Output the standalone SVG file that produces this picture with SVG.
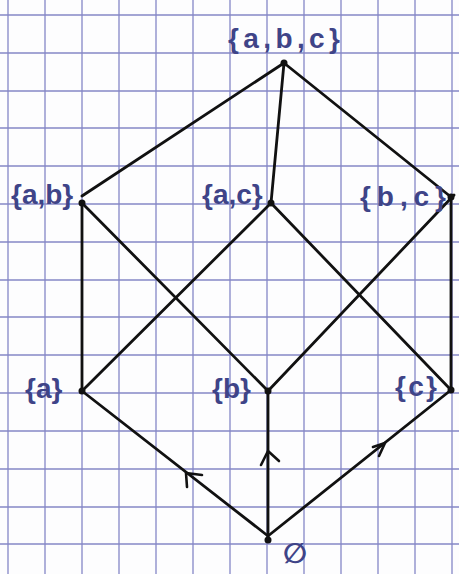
<svg xmlns="http://www.w3.org/2000/svg" width="459" height="574" viewBox="0 0 459 574">
<style>
.grid line{stroke:#8587c6;stroke-width:1.3}
.edge{stroke:#111;stroke-width:2.8;fill:none;stroke-linecap:round}
.chev{stroke:#111;stroke-width:2.6;fill:none;stroke-linecap:round;stroke-linejoin:round}
.dot{fill:#111}
.lbl{font-family:"Liberation Sans","DejaVu Sans",sans-serif;font-size:28px;fill:#3f4488;font-weight:bold}
</style>
<rect width="459" height="574" fill="#fdfdfe"/>
<g class="grid">
<line x1="8" y1="0" x2="8" y2="574"/>
<line x1="45" y1="0" x2="45" y2="574"/>
<line x1="82" y1="0" x2="82" y2="574"/>
<line x1="119" y1="0" x2="119" y2="574"/>
<line x1="156" y1="0" x2="156" y2="574"/>
<line x1="193" y1="0" x2="193" y2="574"/>
<line x1="230" y1="0" x2="230" y2="574"/>
<line x1="267" y1="0" x2="267" y2="574"/>
<line x1="304" y1="0" x2="304" y2="574"/>
<line x1="341" y1="0" x2="341" y2="574"/>
<line x1="378" y1="0" x2="378" y2="574"/>
<line x1="415" y1="0" x2="415" y2="574"/>
<line x1="452" y1="0" x2="452" y2="574"/>
<line x1="0" y1="15" x2="459" y2="15"/>
<line x1="0" y1="53" x2="459" y2="53"/>
<line x1="0" y1="91" x2="459" y2="91"/>
<line x1="0" y1="128" x2="459" y2="128"/>
<line x1="0" y1="166" x2="459" y2="166"/>
<line x1="0" y1="204" x2="459" y2="204"/>
<line x1="0" y1="242" x2="459" y2="242"/>
<line x1="0" y1="280" x2="459" y2="280"/>
<line x1="0" y1="317" x2="459" y2="317"/>
<line x1="0" y1="355" x2="459" y2="355"/>
<line x1="0" y1="393" x2="459" y2="393"/>
<line x1="0" y1="431" x2="459" y2="431"/>
<line x1="0" y1="469" x2="459" y2="469"/>
<line x1="0" y1="507" x2="459" y2="507"/>
<line x1="0" y1="544" x2="459" y2="544"/>
</g>
<g id="connectors">
<line class="edge" x1="284" y1="63" x2="82" y2="196"/>
<line class="edge" x1="284" y1="63" x2="271" y2="203"/>
<line class="edge" x1="284" y1="63" x2="451" y2="197"/>
<line class="edge" x1="82" y1="203" x2="82" y2="391"/>
<line class="edge" x1="82" y1="203" x2="268" y2="391"/>
<line class="edge" x1="271" y1="203" x2="82" y2="391"/>
<line class="edge" x1="271" y1="203" x2="451" y2="390"/>
<line class="edge" x1="454" y1="195" x2="268" y2="391"/>
<line class="edge" x1="451" y1="197" x2="451" y2="390"/>
<line class="edge" x1="82" y1="391" x2="268" y2="536"/>
<line class="edge" x1="268" y1="391" x2="268" y2="536"/>
<line class="edge" x1="451" y1="390" x2="268" y2="536"/>
<path class="chev" d="M202,475 L186,473 L187,487"/>
<path class="chev" d="M261,465 L268,451 L279,461"/>
<path class="chev" d="M373,447 L385,443 L379,456"/>
</g>
<g id="n-abc"><circle class="dot" cx="284" cy="63" r="3.5"/><text class="lbl" x="228" y="48" textLength="112" lengthAdjust="spacing">{a,b,c}</text></g>
<g id="n-ab"><circle class="dot" cx="82" cy="203" r="3.5"/><text class="lbl" x="11" y="204">{a,b}</text></g>
<g id="n-ac"><circle class="dot" cx="271" cy="203" r="3.5"/><text class="lbl" x="202" y="204">{a,c}</text></g>
<g id="n-bc"><circle class="dot" cx="451" cy="197" r="3.5"/><text class="lbl" x="360" y="206" textLength="86" lengthAdjust="spacing">{b,c}</text></g>
<g id="n-a"><circle class="dot" cx="82" cy="391" r="3.5"/><text class="lbl" x="25" y="398">{a}</text></g>
<g id="n-b"><circle class="dot" cx="268" cy="391" r="3.5"/><text class="lbl" x="212" y="398">{b}</text></g>
<g id="n-c"><circle class="dot" cx="451" cy="390" r="3.5"/><text class="lbl" x="395" y="396" textLength="42" lengthAdjust="spacing">{c}</text></g>
<g id="n-empty"><circle class="dot" cx="268" cy="540" r="3.5"/><text class="lbl" x="283" y="563" font-size="36" font-weight="normal">∅</text></g>
</svg>
